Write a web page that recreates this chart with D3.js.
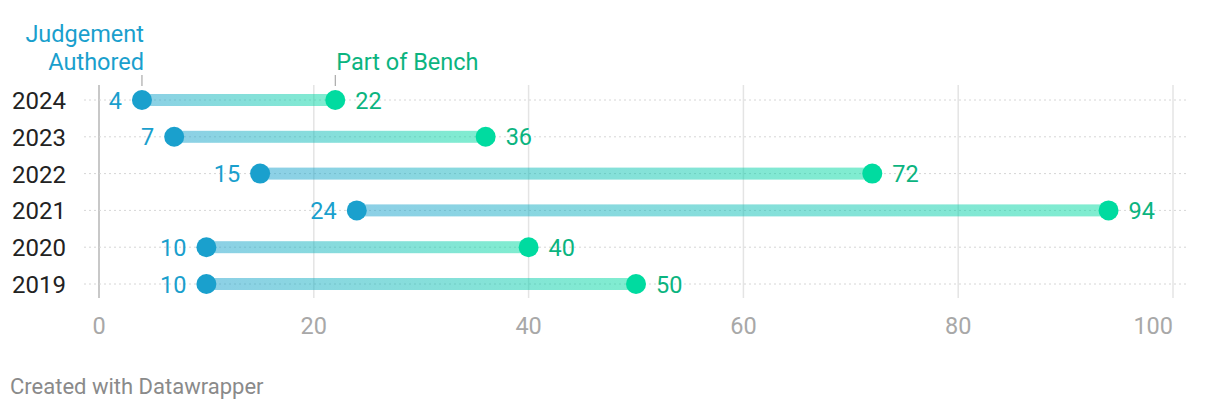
<!DOCTYPE html>
<html><head><meta charset="utf-8">
<script src="https://cdn.jsdelivr.net/npm/d3@7"></script>
<style>
body{margin:0;background:#fff;font-family:Roboto,"Noto Sans",sans-serif;}
svg{display:block}
</style></head><body>
<svg id="chart" width="1220" height="412"></svg>
<script>
const years = ["2024","2023","2022","2021","2020","2019"];
const authored = [4, 7, 15, 24, 10, 10];
const bench = [22, 36, 72, 94, 40, 50];
const xTicks = [0, 20, 40, 60, 80, 100];
const seriesNames = ["Judgement\nAuthored", "Part of Bench"];

const blue = "#1aa0cd", green = "#00dba0";
const blueText = "#1a9fcd", greenText = "#0bb47f";
const FS = 23.5;

const svg = d3.select("#chart");
const x = d3.scaleLinear().domain([0, 100]).range([99, 1173]);
const y = d3.scalePoint().domain(years).range([100, 284]);

const defs = svg.append("defs");
const grad = defs.append("linearGradient").attr("id","lg").attr("x1","0%").attr("x2","100%");
grad.append("stop").attr("offset","0%").attr("stop-color",blue);
grad.append("stop").attr("offset","100%").attr("stop-color",green);

// vertical grid
svg.append("g").selectAll("line").data(xTicks).join("line")
  .attr("x1", d => x(d)).attr("x2", d => x(d))
  .attr("y1", 85).attr("y2", 298)
  .attr("stroke", d => d === 0 ? "#c8c8c8" : "#e4e4e4")
  .attr("stroke-width", d => d === 0 ? 2 : 1.5);

// horizontal dotted lines
svg.append("g").selectAll("line").data(years).join("line")
  .attr("x1", 84).attr("x2", 1186)
  .attr("y1", d => y(d)).attr("y2", d => y(d))
  .attr("stroke", "#d6d6d6").attr("stroke-width", 1)
  .attr("stroke-dasharray", "2,3");

// x tick labels
svg.append("g").selectAll("text").data(xTicks).join("text")
  .attr("x", d => x(d)).attr("y", 334)
  .attr("text-anchor", (d, i) => i === xTicks.length - 1 ? "end" : "middle")
  .attr("fill", "#a8a8a8").attr("font-size", FS)
  .text(d => d);

// year labels
svg.append("g").selectAll("text").data(years).join("text")
  .attr("x", 12).attr("y", d => y(d) + 9)
  .attr("fill", "#222").attr("font-size", 24)
  .text(d => d);

const rows = years.map((yr, i) => ({yr, a: authored[i], b: bench[i]}));

// connecting lines
svg.append("g").selectAll("rect").data(rows).join("rect")
  .attr("x", d => x(d.a)).attr("width", d => x(d.b) - x(d.a))
  .attr("y", d => y(d.yr) - 6).attr("height", 12)
  .attr("fill", "url(#lg)").attr("opacity", 0.5);

// dots
svg.append("g").selectAll("circle").data(rows).join("circle")
  .attr("cx", d => x(d.a)).attr("cy", d => y(d.yr)).attr("r", 10).attr("fill", blue);
svg.append("g").selectAll("circle").data(rows).join("circle")
  .attr("cx", d => x(d.b)).attr("cy", d => y(d.yr)).attr("r", 10).attr("fill", green);

// value labels
svg.append("g").selectAll("text").data(rows).join("text")
  .attr("x", d => x(d.a) - 20).attr("y", d => y(d.yr) + 8.5)
  .attr("text-anchor", "end").attr("fill", blueText).attr("font-size", FS)
  .text(d => d.a);
svg.append("g").selectAll("text").data(rows).join("text")
  .attr("x", d => x(d.b) + 20).attr("y", d => y(d.yr) + 8.5)
  .attr("text-anchor", "start").attr("fill", greenText).attr("font-size", FS)
  .text(d => d.b);

// series labels
const first = rows[0];
svg.append("line").attr("x1", x(first.a)).attr("x2", x(first.a)).attr("y1", 75).attr("y2", 86)
  .attr("stroke", "#999").attr("stroke-width", 1);
svg.append("line").attr("x1", x(first.b)).attr("x2", x(first.b)).attr("y1", 75).attr("y2", 86)
  .attr("stroke", "#999").attr("stroke-width", 1);
const t1 = svg.append("text").attr("text-anchor", "end").attr("fill", blueText).attr("font-size", FS);
seriesNames[0].split("\n").forEach((s, i) => {
  t1.append("tspan").attr("x", x(first.a) + 2).attr("y", 42 + i * 28).text(s);
});
svg.append("text").attr("x", x(first.b) + 1).attr("y", 70)
  .attr("text-anchor", "start").attr("fill", greenText).attr("font-size", FS)
  .text(seriesNames[1]);

// footer
svg.append("text").attr("x", 10).attr("y", 394)
  .attr("fill", "#8a8a8a").attr("font-size", 22)
  .text("Created with Datawrapper");
</script>
</body></html>
